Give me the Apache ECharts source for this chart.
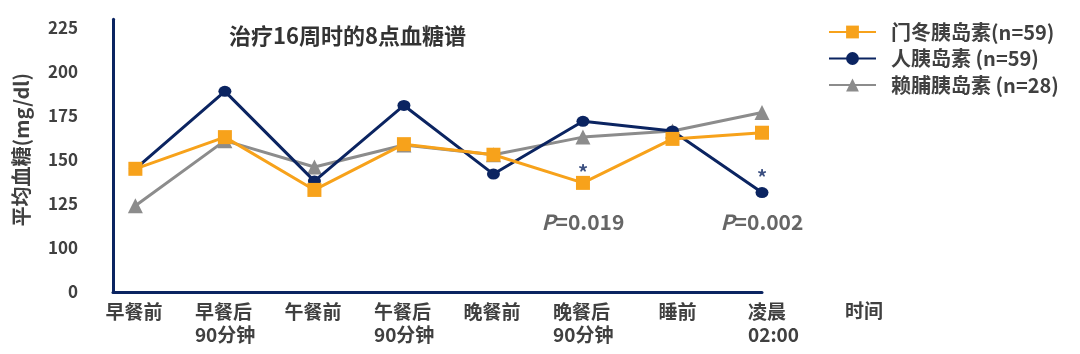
<!DOCTYPE html>
<html>
<head>
<meta charset="utf-8">
<script src="https://cdn.jsdelivr.net/npm/echarts@6/dist/echarts.min.js"></script>
<style>html,body{margin:0;padding:0;background:#fff}#c{width:1080px;height:354px}</style>
</head>
<body>
<div id="c"></div>
<script>
const categories = ['早餐前', '早餐后\n90分钟', '午餐前', '午餐后\n90分钟', '晚餐前', '晚餐后\n90分钟', '睡前', '凌晨\n02:00'];
const seriesNames = ['门冬胰岛素(n=59)', '人胰岛素 (n=59)', '赖脯胰岛素 (n=28)'];
const aspartValues = [145, 163, 133, 159, 153, 137, 162, 165.5];
const humanValues = [145, 189, 138, 181, 142, 172, 166.5, 131.5];
const lisproValues = [124, 161, 146, 158.5, 153, 163, 166.5, 177];
const yTickLabels = {75: '0', 100: '100', 125: '125', 150: '150', 175: '175', 200: '200', 225: '225'};
const starPoints = [[5, 143], [7, 140]];
const pLabels = [[5, 114.5, '0.019'], [7, 114.5, '0.002']];

const FONT = '"Noto Sans CJK SC", "Noto Sans", sans-serif';
const ORANGE = '#F7A21B', NAVY = '#0B2461', GRAY = '#8C8C8C', TXT = '#404040';

const chart = echarts.init(document.getElementById('c'));
chart.setOption({
  backgroundColor: '#fff',
  animation: false,
  title: {
    text: '治疗16周时的8点血糖谱',
    left: 229, top: 24, padding: 0,
    textStyle: {fontFamily: FONT, fontSize: 22, lineHeight: 24, fontWeight: 'bold', color: '#333'}
  },
  legend: {
    orient: 'vertical', left: 828, top: 22, padding: 0,
    itemWidth: 47, itemHeight: 16, itemGap: 6.5,
    data: seriesNames,
    textStyle: {fontFamily: FONT, fontSize: 20, lineHeight: 20, fontWeight: 'bold', color: TXT, padding: [0, 0, 0, 10]}
  },
  grid: {left: 113, right: 318, top: 19.2, bottom: 62},
  xAxis: {
    type: 'value', min: -0.25, max: 7, interval: 0.25,
    axisLine: {onZero: false, lineStyle: {color: NAVY, width: 3}},
    axisTick: {show: false}, splitLine: {show: false},
    axisLabel: {
      margin: 8,
      showMinLabel: false, showMaxLabel: true, hideOverlap: false,
      formatter: v => {
        const i = Math.round(v);
        if (Math.abs(v - i) > 1e-6 || i < 0 || i > 7) return '';
        const st = i < 6 ? 'a' : 'b';
        return categories[i].split('\n').map(s => '{' + st + '|' + s + '}').join('\n');
      },
      rich: {
        a: {width: 60, align: 'left', fontFamily: FONT, fontSize: 19, lineHeight: 23, fontWeight: 'bold', color: TXT},
        b: {width: 28, align: 'left', fontFamily: FONT, fontSize: 19, lineHeight: 23, fontWeight: 'bold', color: TXT}
      }
    },
    name: '时间', nameLocation: 'end', nameGap: 83,
    nameTextStyle: {fontFamily: FONT, fontSize: 19, fontWeight: 'bold', color: TXT, verticalAlign: 'top', lineHeight: 23, padding: [7, 0, 0, 0]}
  },
  yAxis: {
    type: 'value', min: 75, max: 230, interval: 25,
    axisLine: {show: true, onZero: false, lineStyle: {color: NAVY, width: 3}},
    axisTick: {show: false}, splitLine: {show: false},
    axisLabel: {
      margin: 35, fontFamily: FONT, fontSize: 17, fontWeight: 'bold', color: TXT,
      formatter: v => yTickLabels[v] !== undefined ? yTickLabels[v] : ''
    },
    name: '平均血糖(mg/dl)', nameLocation: 'middle', nameGap: 82, nameRotate: 90,
    nameTextStyle: {fontFamily: FONT, fontSize: 20, fontWeight: 'bold', color: TXT, padding: [0, 0, 0, 12]}
  },
  series: [
    {
      name: seriesNames[2], type: 'line', z: 2,
      data: lisproValues.map((v, i) => [i, v]),
      symbol: 'triangle', symbolSize: 15,
      lineStyle: {color: GRAY, width: 3}, itemStyle: {color: GRAY}
    },
    {
      name: seriesNames[1], type: 'line', z: 3,
      data: humanValues.map((v, i) => [i, v]),
      symbol: 'circle', symbolSize: [13, 11],
      lineStyle: {color: NAVY, width: 3}, itemStyle: {color: NAVY}
    },
    {
      name: seriesNames[0], type: 'line', z: 4,
      data: aspartValues.map((v, i) => [i, v]),
      symbol: 'rect', symbolSize: 14,
      lineStyle: {color: ORANGE, width: 3}, itemStyle: {color: ORANGE}
    },
    {
      name: 'stars', type: 'scatter', z: 5, silent: true,
      data: starPoints, symbolSize: 0,
      label: {show: true, position: 'inside', formatter: '*',
        fontFamily: FONT, fontSize: 20, fontWeight: 'bold', color: NAVY}
    },
    {
      name: 'pvals', type: 'scatter', z: 5, silent: true,
      data: pLabels.map(d => [d[0], d[1], d[2]]), symbolSize: 0,
      label: {show: true, position: 'inside',
        formatter: p => '{i|P}{n|=' + p.value[2] + '}',
        rich: {
          i: {fontFamily: FONT, fontSize: 21, fontStyle: 'italic', fontWeight: 'bold', color: TXT},
          n: {fontFamily: FONT, fontSize: 21, fontWeight: 'bold', color: TXT}
        }}
    }
  ]
});
</script>
</body>
</html>
